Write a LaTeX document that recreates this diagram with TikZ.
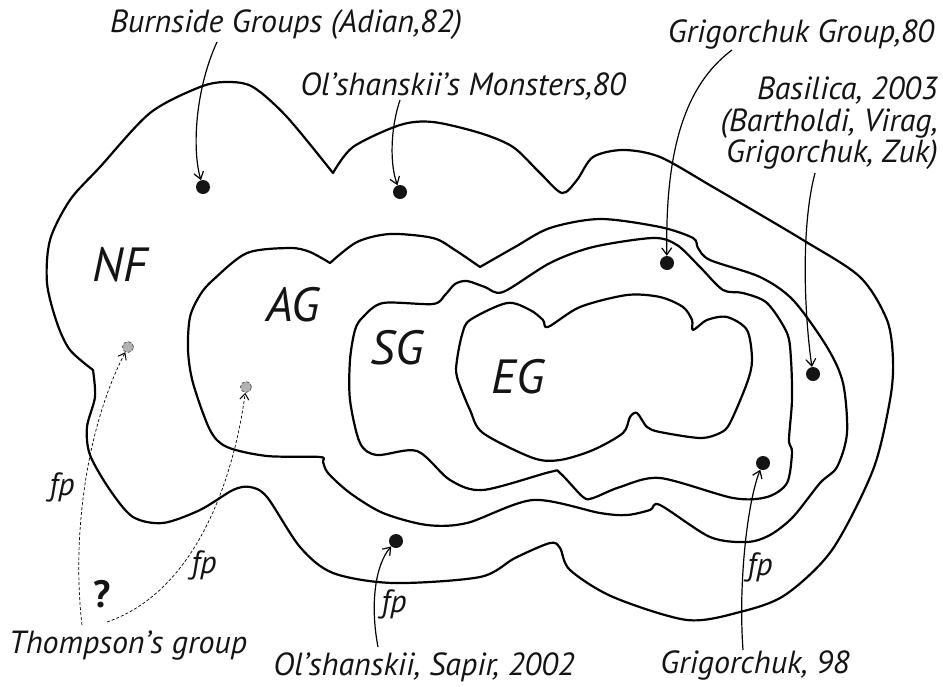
\documentclass[tikz,border=0pt]{standalone}
\usepackage{fontspec}
\setmainfont{PT Sans}
\usetikzlibrary{arrows.meta}
\begin{document}
\begin{tikzpicture}[x=1pt,y=-1pt,
  region/.style={line width=2.2pt, line join=round, line cap=round},
  lab/.style={font=\fontsize{32}{31.5}\selectfont\itshape, inner sep=0pt, text=black!92},
  biglab/.style={font=\fontsize{48}{48}\selectfont\itshape, inner sep=0pt, text=black!92},
  dotb/.style={circle, fill=black!92, inner sep=0pt, minimum size=14pt},
  dotg/.style={circle, fill=black!30, draw=black!70, densely dashed, line width=0.7pt, inner sep=0pt, minimum size=11pt},
  arr/.style={line width=1.2pt, -{Straight Barb[length=7pt,width=10pt,line width=1.2pt]}},
  darr/.style={line width=0.7pt, dashed, dash pattern=on 3pt off 2pt, -{Straight Barb[length=6pt,width=9pt,line width=1pt]}}
]
\useasboundingbox (0,0) rectangle (943,686);

% NF outer region
\draw[region] plot[smooth, tension=0.5] coordinates {(93,370) (70,350) (57,323) (47,283) (50,240) (70,200) (100,167) (150,113) (200,87) (227,82) (253,87) (287,117) (333,173)}
  -- plot[smooth, tension=0.5] coordinates {(333,173) (353,147) (400,125) (433,122) (480,133) (513,147) (540,173) (562,193) (577,180) (593,157) (623,150) (660,157) (713,187) (803,240) (860,277) (887,320) (893,360) (890,400) (873,470) (832,550) (785,595) (740,612) (687,620) (613,597) (570,570) (560,548) (550,543) (515,558) (480,577) (393,583) (333,573) (300,547) (267,497) (250,487) (233,490) (200,510) (163,523) (133,517) (110,490) (90,455) (87,427) (95,397) (93,370)} -- cycle;

% AG region
\draw[region] plot[smooth, tension=0.5] coordinates {(330,263) (357,242) (390,234) (433,238) (455,250) (480,267)}
  -- plot[smooth, tension=0.5] coordinates {(480,267) (515,247) (550,228) (600,219) (660,227) (693,238) (698,248) (710,260) (760,277) (793,300) (827,347) (843,383) (847,433) (837,467) (820,483) (793,517) (770,535) (747,542) (710,537) (660,505) (650,510) (627,515) (600,513) (533,500) (467,523) (427,525) (383,513) (350,493) (328,473) (323,462) (320,457) (267,456) (227,447) (210,430) (193,383) (188,350) (190,317) (200,295) (213,280) (247,253) (290,248) (310,252) (330,263)} -- cycle;

% SG region
\draw[region] plot[smooth cycle, tension=0.5] coordinates {(350,360) (355,330) (363,317) (383,303) (433,304) (445,295) (455,284) (467,281) (485,287) (503,292) (550,263) (593,247) (653,238) (677,245) (700,267) (723,290) (743,293) (767,303) (787,333) (791,360) (792,400) (789,440) (792,452) (787,483) (767,497) (733,498) (660,478) (620,487) (593,498) (583,497) (560,473) (550,472) (483,490) (450,480) (417,451) (377,455) (360,443) (350,400)};

% EG region
\draw[region] plot[smooth cycle, tension=0.5] coordinates {(457,360) (462,335) (470,320) (507,303) (530,310) (543,320) (548,327) (580,307) (627,295) (660,297) (683,307) (692,320) (693,330) (707,320) (727,317) (747,330) (752,360) (747,383) (730,423) (720,433) (700,438) (660,432) (647,427) (637,413) (630,417) (623,433) (593,450) (560,460) (533,458) (483,433) (470,410) (457,377)};

% region labels
\node[biglab, anchor=base] (nf) at (120,281) {NF};
\node[biglab, anchor=base] (ag) at (293,321) {AG};
\node[biglab, anchor=base] (sg) at (397,364) {SG};
\node[biglab, anchor=base] (eg) at (518,393) {EG};

% dots
\node[dotb] (burn) at (203,187) {};
\node[dotb] (mon) at (400,192) {};
\node[dotb] (grg) at (667,263) {};
\node[dotb] (bas) at (813,374) {};
\node[dotb] (g98) at (763,463) {};
\node[dotb] (os) at (396,541) {};
\node[dotg] (t1) at (128,347) {};
\node[dotg] (t2) at (246,387) {};

% text labels
\node[lab, anchor=base] (lburn) at (286,32) {Burnside Groups (Adian,82)};
\node[lab, anchor=base] (lmon) at (463,95) {Ol’shanskii’s Monsters,80};
\node[lab, anchor=base] (lgrg) at (801,42) {Grigorchuk Group,80};
\node[lab, anchor=north east, align=right] (lbas) at (938,77) {Basilica, 2003\\(Bartholdi, Virag,\\Grigorchuk, Zuk)};
\node[lab, anchor=base] (lth) at (128,653) {Thompson’s group};
\node[lab, anchor=base] (los) at (424,675) {Ol’shanskii, Sapir, 2002};
\node[lab, anchor=base] (lg98) at (755,673) {Grigorchuk, 98};
\node[lab, font=\fontsize{38}{38}\selectfont\bfseries\upshape] (q) at (102,594) {?};
\node[lab] (fp1) at (62,487) {fp};
\node[lab] (fp2) at (204,565) {fp};
\node[lab] (fp3) at (394,604) {fp};
\node[lab] (fp4) at (760,567) {fp};

% arrow start points
\coordinate (sburn) at (217,42);
\coordinate (smon) at (400,100);
\coordinate (sgrg) at (732,50);
\coordinate (sbas) at (815,173);
\coordinate (sg98) at (743,650);
\coordinate (sos) at (378,647);
\coordinate (st1) at (82,625);
\coordinate (st2) at (107,622);

% arrows
\draw[arr] (sburn) .. controls (195,90) and (192,150) .. (burn);
\draw[arr] (smon) .. controls (390,130) and (390,165) .. (mon);
\draw[arr] (sgrg) .. controls (685,85) and (665,150) .. (grg);
\draw[arr] (sbas) .. controls (800,230) and (805,320) .. (bas);
\draw[arr] (sg98) .. controls (738,580) and (748,500) .. (g98);
\draw[arr] (sos) .. controls (370,605) and (375,565) .. (os);
\draw[darr] (st1) .. controls (72,540) and (85,430) .. (t1);
\draw[darr] (st2) .. controls (200,590) and (235,470) .. (t2);
\end{tikzpicture}
\end{document}
